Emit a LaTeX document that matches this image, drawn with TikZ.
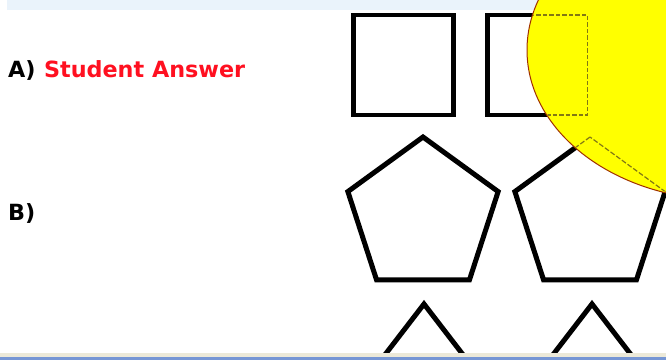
\documentclass[tikz,border=0pt]{standalone}
\usepackage{fontspec}
\usepackage{xcolor}
\usetikzlibrary{positioning,shapes.geometric}
\newfontfamily\verdfont{DejaVu Sans}

\definecolor{bandblue}{RGB}{234,243,251}
\definecolor{ansred}{RGB}{255,16,32}
\definecolor{blobyellow}{RGB}{255,255,0}
\definecolor{blobedge}{RGB}{160,48,0}
\definecolor{barbeige}{RGB}{236,233,216}
\definecolor{barblue}{RGB}{118,150,212}
\definecolor{ghostolive}{RGB}{130,120,20}

\begin{document}
\begin{tikzpicture}[
		x=1pt, y=-1pt,
		every node/.style={font=\verdfont\bfseries\fontsize{22.3}{25}\selectfont},
		lbl/.style={inner sep=0pt, anchor=base west, text=black},
		answer/.style={inner sep=0pt, anchor=base west, text=ansred},
		sq/.style={draw, line width=4.5pt, minimum size=100pt, inner sep=0pt},
		penta/.style={draw, regular polygon, regular polygon sides=5, line width=5pt, minimum size=158pt, inner sep=0pt},
		tri/.style={line width=5pt},
		blob/.style={fill=blobyellow, draw=blobedge, line width=1pt},
		ghost/.style={draw=ghostolive, dotted, line width=1.2pt, fill=none}
		]
		
		\useasboundingbox (0,0) rectangle (666,360);
		
		% top band
		\fill[bandblue] (7,0) rectangle (666,10);
		
		% labels
		\node[lbl] (ansA) at (8,77) {A)};
		\node[answer] (stud) at ([xshift=8pt]ansA.base east) {Student Answer};
		\node[lbl] (ansB) at (8,220) {B)};
		
		% squares
		\node[sq] (sqA) at (403.5,65) {};
		\node[sq] (sqB) at (537.5,65) {};
		
		% pentagons
		\node[penta] (pentA) at (423,216) {};
		\node[penta] (pentB) at (590,216) {};
		
		% triangles, cut off at the bottom
		\coordinate (triA) at (424,304);
		\coordinate (triB) at (592,304);
		\draw[tri] ([xshift=-40pt,yshift=-52pt]triA) -- (triA) -- ([xshift=40pt,yshift=-52pt]triA);
		\draw[tri] ([xshift=-40pt,yshift=-52pt]triB) -- (triB) -- ([xshift=40pt,yshift=-52pt]triB);
		
		% yellow blob over the right shapes
		\draw[blob] (727,50) ellipse [x radius=200pt, y radius=150pt];
		\begin{scope}
			\clip (727,50) ellipse [x radius=199pt, y radius=149pt];
			\node[sq, ghost] at (sqB) {};
			\node[penta, ghost] at (pentB) {};
		\end{scope}
		
		% bottom bar
		\fill[barbeige] (0,353) rectangle (666,357);
		\fill[barblue] (0,357) rectangle (666,360);
		
	\end{tikzpicture}
\end{document}
